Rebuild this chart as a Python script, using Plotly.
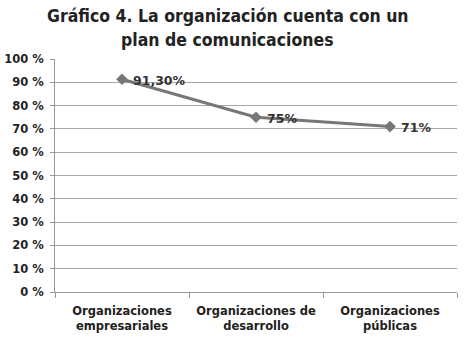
import plotly.graph_objects as go

categories = ["Organizaciones<br>empresariales", "Organizaciones de<br>desarrollo", "Organizaciones<br>públicas"]
values = [91.3, 75, 71]
labels = ["91,30%", "75%", "71%"]
y_ticks = [0, 10, 20, 30, 40, 50, 60, 70, 80, 90, 100]
y_tick_text = [f"{v} %" for v in y_ticks]
title_lines = ["Gráfico 4. La organización cuenta con un", "plan de comunicaciones"]

W, H = 467, 342
ML, MR, MT, MB = 55, 10, 59, 50
plot_h = H - MT - MB

def paper_y(py):
    return (H - MB - py) / plot_h

fig = go.Figure()
fig.add_trace(go.Scatter(
    x=categories, y=values, mode="lines+markers",
    line=dict(color="#777777", width=3),
    marker=dict(symbol="diamond", size=9, color="#777777"),
    cliponaxis=False,
))

for cat, val, lab in zip(categories, values, labels):
    fig.add_annotation(
        x=cat, y=val, text=lab, xanchor="left", yanchor="middle",
        xshift=9, yshift=-1, showarrow=False,
        font=dict(family="DejaVu Sans", size=12.5, color="#333333", weight="bold"),
    )

for line, py in zip(title_lines, [16, 40]):
    fig.add_annotation(
        text=line, xref="paper", yref="paper", x=0.43, y=paper_y(py),
        xanchor="center", yanchor="middle", showarrow=False,
        font=dict(family="DejaVu Sans Condensed", size=17.5, color="#222222", weight="bold"),
    )

fig.update_layout(
    width=W, height=H,
    margin=dict(l=ML, r=MR, t=MT, b=MB, autoexpand=False),
    paper_bgcolor="white", plot_bgcolor="white",
    showlegend=False,
)
fig.update_xaxes(
    type="category", automargin=False, range=[-0.5, 2.5],
    showline=True, linecolor="#999999", linewidth=1,
    ticks="outside", tickson="boundaries", ticklen=5, tickcolor="#999999",
    ticklabelstandoff=8,
    showgrid=False,
    tickfont=dict(family="DejaVu Sans", size=11.5, color="#222222", weight="bold"),
)
fig.update_yaxes(
    range=[0, 100], tickvals=y_ticks, ticktext=y_tick_text, automargin=False,
    showline=True, linecolor="#999999", linewidth=1,
    ticks="outside", ticklen=4, tickcolor="#999999",
    ticklabelstandoff=4,
    showgrid=True, gridcolor="#a6a6a6", gridwidth=1,
    zeroline=False,
    tickfont=dict(family="DejaVu Sans", size=11.5, color="#222222", weight="bold"),
)

fig.write_html(
    "out.html",
    config={"displayModeBar": False},
    post_script="document.body.style.margin='0';document.body.style.overflow='hidden';",
)
